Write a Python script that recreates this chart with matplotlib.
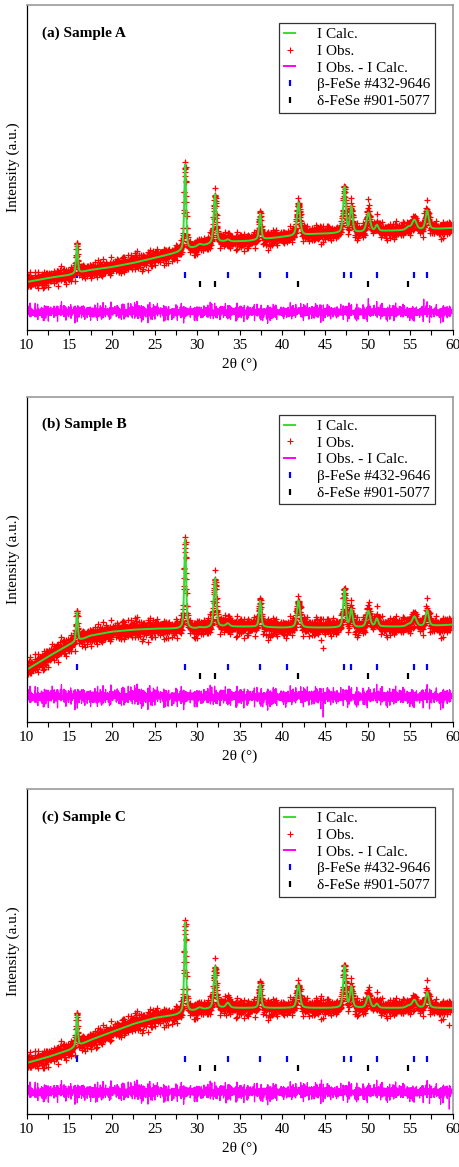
import numpy as np
import matplotlib.pyplot as plt
from matplotlib.lines import Line2D
from matplotlib.ticker import MultipleLocator

plt.rcParams['font.family'] = ['Liberation Serif', 'DejaVu Serif']

# --- data (intensity in arbitrary units) ---
two_theta = np.arange(10, 60.001, 0.02)

# background anchors of the fitted curve
bg_x = [10, 12.5, 15, 17.5, 20, 22.5, 25, 27.5, 30, 33, 36, 40, 44, 48, 52, 56, 60]
bg_a = [48, 52, 55, 60, 63, 67, 72, 77, 83, 88, 89, 93, 96, 97, 99, 100, 102]
bg_b = [52, 65, 77, 86, 90, 92, 93, 93, 93, 95, 95, 94, 94, 94, 95, 95, 97]
bg_c = [51, 57, 64, 74, 82, 90, 96, 99, 104, 106, 106, 106, 106, 106, 106, 106, 106]

# reflections of the fit
peak_pos = [15.9, 28.6, 30.3, 32.1, 33.6, 37.4, 41.9, 47.3, 48.1, 50.1, 51.1, 54.8, 55.5, 57.0]
peak_hw = [0.12, 0.13, 0.3, 0.18, 0.25, 0.15, 0.22, 0.18, 0.18, 0.25, 0.2, 0.3, 0.3, 0.22]
peak_a = [29, 86, 2, 49, 2, 26, 33, 46, 26, 19, 6, 3, 10, 19]
peak_b = [29, 89, 1, 49, 3, 26, 27, 38, 18, 16, 8, 2, 10, 16]
peak_c = [32, 91, 2, 42, 5, 24, 23, 42, 21, 12, 4, 2, 8, 16]

# scatter of observed points around the fit (typed offsets, cycled)
offs1 = [0.12, -0.85, 0.47, -0.23, 0.91, -0.64, 0.05, 0.38, -0.97, 0.71, -0.12, 0.26,
         -0.55, 0.83, -0.31, 0.02, -0.78, 0.59, -0.44, 0.95, -0.08, 0.33, -0.69, 0.17,
         -0.91, 0.64, -0.27, 0.49, -0.6, 0.08, 0.77, -0.36, 0.21, -0.82, 0.54, -0.15, 0.42]
offs2 = [-0.4, 0.7, 0.1, -0.9, 0.5, -0.2, 0.85, -0.6, 0.3, -0.05, 0.65, -0.75, 0.2, 0.95,
         -0.35, -0.8, 0.45, 0.0, -0.5, 0.75, -0.15, 0.55, -0.95, 0.25, 0.6, -0.3, 0.9, -0.7, 0.15]
offs3 = [0.3, 1.0, 0.55, 1.4, 0.8, 0.4, 1.2, 0.65, 1.5, 0.9, 0.5, 1.1, 0.7]
noise_amp = [8.5, 10, 9.5]
diff_level = [18, 25, 22]
spikes_a = [(50.1, 12), (53.1, -14), (56.6, 9), (31.6, 8), (43.5, 8)]
spikes_b = [(46.0, 12), (55.2, 10), (44.8, -10), (40.4, -10), (13.0, 8)]
spikes_c = [(44.6, 13), (33.4, -12), (59.6, -12), (18.1, -10), (42.3, 9)]

# reference patterns
beta_pos = [15.9, 28.6, 33.6, 37.4, 40.6, 47.3, 48.1, 51.1, 55.5, 57.0]
delta_pos = [30.3, 32.1, 41.9, 50.0, 54.8]
beta_y, delta_y = 55, 46

titles = ['(a) Sample A', '(b) Sample B', '(c) Sample C']
backgrounds = [bg_a, bg_b, bg_c]
heights = [peak_a, peak_b, peak_c]
spikes = [spikes_a, spikes_b, spikes_c]

GREEN = '#33dd33'
MAGENTA = '#ff00ff'

fig = plt.figure(figsize=(4.6, 11.67), dpi=100)
W, H = 460, 1167
tops = [5, 396.7, 789]

n = len(two_theta)
idx = np.arange(n)
scatter = (0.65 * np.array(offs1)[idx % len(offs1)]
           + 0.35 * np.array(offs2)[idx % len(offs2)]) * np.array(offs3)[(idx // 3) % len(offs3)]

for k in range(3):
    ax = fig.add_axes([26.7 / W, 1 - (tops[k] + 325) / H, 426 / W, 325 / H])

    calc = np.interp(two_theta, bg_x, backgrounds[k])
    for p, hw, h in zip(peak_pos, peak_hw, heights[k]):
        d = (two_theta - p) / hw
        calc = calc + h * (0.5 / (1 + d ** 2) + 0.5 * np.exp(-np.log(2) * d ** 2))

    resid = noise_amp[k] * scatter
    for sx, sv in spikes[k]:
        resid[np.argmin(np.abs(two_theta - sx))] += sv
    obs = calc + resid

    ax.plot(beta_pos, [beta_y] * len(beta_pos), ls='none', marker='|', color='#0000ff',
            ms=4, mew=1.6)
    ax.plot(delta_pos, [delta_y] * len(delta_pos), ls='none', marker='|', color='black',
            ms=4, mew=1.6)
    ax.plot(two_theta, obs, ls='none', marker='+', color='red', ms=4.5, mew=0.9)
    ax.plot(two_theta, calc, color=GREEN, lw=1.4)
    ax.plot(two_theta, diff_level[k] + resid, color=MAGENTA, lw=0.9)

    ax.set_xlim(10, 60)
    ax.set_ylim(0, 325)
    ax.xaxis.set_major_locator(MultipleLocator(5))
    ax.xaxis.set_minor_locator(MultipleLocator(2.5))
    ax.tick_params(axis='x', which='both', direction='out', length=3.5, width=0.8,
                   labelsize=11, pad=3)
    ax.set_yticks([])
    for s in ['top', 'right']:
        ax.spines[s].set_color('#999999')
        ax.spines[s].set_linewidth(1.2)
    for s in ['left', 'bottom']:
        ax.spines[s].set_color('black')
        ax.spines[s].set_linewidth(0.9)

    ax.set_xlabel('2θ (°)', fontsize=11, labelpad=4)
    ax.set_ylabel('Intensity (a.u.)', fontsize=11, labelpad=5)
    ax.text(0.035, 0.914, titles[k], transform=ax.transAxes, fontsize=11,
            fontweight='bold', va='center', ha='left')

    handles = [
        Line2D([], [], color=GREEN, lw=1.4),
        Line2D([], [], ls='none', marker='+', color='red', ms=4, mew=0.8),
        Line2D([], [], color=MAGENTA, lw=1.4),
        Line2D([], [], ls='none', marker='|', color='#0000ff', ms=4, mew=1.6),
        Line2D([], [], ls='none', marker='|', color='black', ms=4, mew=1.6),
    ]
    labels = ['I Calc.', 'I Obs.', 'I Obs. - I Calc.', 'β-FeSe #432-9646', 'δ-FeSe #901-5077']
    leg = ax.legend(handles, labels, loc='upper right', bbox_to_anchor=(0.958, 0.945),
                    fontsize=11, frameon=True, fancybox=False, framealpha=1,
                    edgecolor='#333333', borderpad=0.3, handlelength=0.75,
                    handletextpad=1.4, labelspacing=0.2, borderaxespad=0)
    leg.get_frame().set_linewidth(0.9)

fig.savefig('out.png', dpi=100, facecolor='white')
